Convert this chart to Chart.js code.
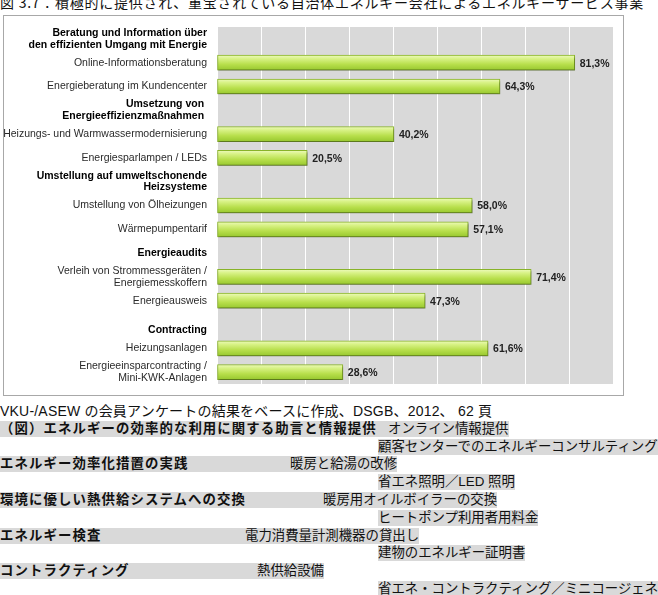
<!DOCTYPE html>
<html>
<head>
<meta charset="utf-8">
<script src="https://cdn.jsdelivr.net/npm/chart.js@4.4.1/dist/chart.umd.min.js"></script>
<style>
  body { margin: 0; width: 658px; height: 595px; overflow: hidden; background: #fff; position: relative;
         font-family: "Liberation Sans", "Noto Sans CJK JP", sans-serif; }
  #title { position: absolute; left: 0; top: -8px; font-size: 14px; white-space: nowrap; color: #111;
           font-family: "Noto Sans CJK JP", sans-serif; letter-spacing: 0.75px; }
  #box { position: absolute; left: 3px; top: 15px; width: 619px; height: 379px; border: 1px solid #a8a8a8; }
  .row { position: absolute; left: 0; white-space: nowrap; font-size: 13.4px; line-height: 16px; color: #111; }
  .hl { background: #d9d9d9; }
  .b { font-weight: bold; letter-spacing: 1.1px; display: inline-block; }
</style>
</head>
<body>
<div id="title">図 3.7：積極的に提供され、重宝されている自治体エネルギー会社によるエネルギーサービス事業</div>
<div id="box"><canvas id="chart" width="619" height="379"></canvas></div>
<div id="notes"></div>
<script>
const categories = [
  ['Beratung und Information über', 'den effizienten Umgang mit Energie'],
  'Online-Informationsberatung',
  'Energieberatung im Kundencenter',
  ['Umsetzung von ', 'Energieeffizienzmaßnahmen '],
  'Heizungs- und Warmwassermodernisierung',
  'Energiesparlampen / LEDs',
  ['Umstellung auf umweltschonende', 'Heizsysteme'],
  'Umstellung von Ölheizungen',
  'Wärmepumpentarif',
  'Energieaudits',
  ['Verleih von Strommessgeräten /', 'Energiemesskoffern'],
  'Energieausweis',
  ['', 'Contracting'],
  'Heizungsanlagen',
  ['Energieeinsparcontracting /', 'Mini-KWK-Anlagen']
];
const headerRows = [0, 3, 6, 9, 12];
const values = [null, 81.3, 64.3, null, 40.2, 20.5, null, 58.0, 57.1, null, 71.4, 47.3, null, 61.6, 28.6];
const xTicks = [0, 90, 10]; // min, max, step

// bottom text lines: [bold left part, x of right part, right part, highlighted]
const notes = [
  ['', 0, 'VKU-/ASEW の会員アンケートの結果をベースに作成、DSGB、2012、 62 頁', false],
  ['（図）エネルギーの効率的な利用に関する助言と情報提供', 388, 'オンライン情報提供', true],
  ['', 378, '顧客センターでのエネルギーコンサルティング', true],
  ['エネルギー効率化措置の実践', 290, '暖房と給湯の改修', true],
  ['', 378, '省エネ照明／LED 照明', true],
  ['環境に優しい熱供給システムへの交換', 323, '暖房用オイルボイラーの交換', true],
  ['', 378, 'ヒートポンプ利用者用料金', true],
  ['エネルギー検査', 245, '電力消費量計測機器の貸出し', true],
  ['', 378, '建物のエネルギー証明書', true],
  ['コントラクティング', 257, '熱供給設備', true],
  ['', 378, '省エネ・コントラクティング／ミニコージェネレーション', true]
];

const notesEl = document.getElementById('notes');
notes.forEach((n, i) => {
  const d = document.createElement('div');
  d.className = 'row' + (n[3] ? ' hl' : '');
  d.style.top = (403 + i * 17.8) + 'px';
  if (n[0]) {
    d.innerHTML = '<span class="b" style="width:' + n[1] + 'px">' + n[0] + '</span><span>' + n[2] + '</span>';
  } else {
    d.style.left = n[1] + 'px';
    d.textContent = n[2];
  }
  if (i === 0) { d.style.fontSize = '14px'; d.style.letterSpacing = '0.2px'; }
  notesEl.appendChild(d);
});

const plotBg = {
  id: 'plotBg',
  beforeDraw(chart) {
    const a = chart.chartArea, c = chart.ctx;
    c.save();
    c.fillStyle = '#d9d9d9';
    c.fillRect(a.left, a.top, a.right - a.left, a.bottom - a.top);
    c.restore();
  },
  beforeDatasetsDraw(chart) {
    const c = chart.ctx;
    c.save();
    c.shadowColor = 'rgba(0,0,0,0.35)';
    c.shadowOffsetX = 1;
    c.shadowOffsetY = 2;
    c.shadowBlur = 2;
  },
  afterDatasetsDraw(chart) {
    const c = chart.ctx;
    c.restore();
    c.save();
    c.font = 'bold 10.5px "Liberation Sans", Arial, sans-serif';
    c.fillStyle = '#222';
    c.textBaseline = 'middle';
    chart.getDatasetMeta(0).data.forEach((bar, i) => {
      if (values[i] == null) return;
      c.fillText(values[i].toFixed(1).replace('.', ',') + '%', bar.x + 5, bar.y + 1);
    });
    c.restore();
  }
};

function barGradient(ctx) {
  const chart = ctx.chart;
  const y = chart.scales && chart.scales.y ? chart.scales.y.getPixelForValue(ctx.dataIndex) : NaN;
  if (!isFinite(y)) return '#b6de4a';
  const g = chart.ctx.createLinearGradient(0, y - 8, 0, y + 8);
  g.addColorStop(0, '#f0fbc4');
  g.addColorStop(0.25, '#d8f286');
  g.addColorStop(0.6, '#b8df4c');
  g.addColorStop(1, '#95c62c');
  return g;
}

new Chart(document.getElementById('chart'), {
  type: 'bar',
  data: {
    labels: categories,
    datasets: [{
      data: values,
      backgroundColor: barGradient,
      borderColor: '#88b329',
      borderWidth: 1,
      borderSkipped: false,
      barThickness: 15
    }]
  },
  options: {
    indexAxis: 'y',
    responsive: false,
    animation: false,
    layout: { padding: { top: 11, right: 10, bottom: 11, left: 0 } },
    plugins: { legend: { display: false }, tooltip: { enabled: false } },
    scales: {
      x: {
        min: xTicks[0], max: xTicks[1],
        ticks: { display: false, stepSize: xTicks[2] },
        grid: { color: '#ffffff', lineWidth: 1, drawTicks: false },
        border: { display: false }
      },
      y: {
        afterFit: s => { s.width = 213; s.paddingTop = 0; s.paddingBottom = 0; },
        grid: { display: false, drawTicks: false },
        border: { display: false },
        ticks: {
          padding: 10,
          autoSkip: false,
          color: c => headerRows.includes(c.index) ? '#000' : '#2a2a2a',
          font: c => ({
            family: '"Liberation Sans", Arial, sans-serif',
            size: 10.5,
            weight: headerRows.includes(c.index) ? 'bold' : 'normal',
            lineHeight: 1.1
          })
        }
      }
    }
  },
  plugins: [plotBg]
});
</script>
</body>
</html>
